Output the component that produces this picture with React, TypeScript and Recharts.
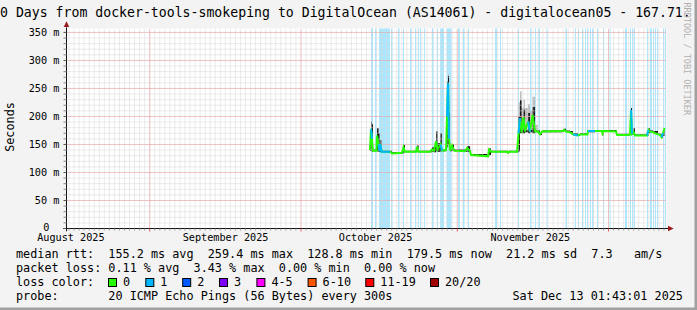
import React from 'react';
import {
  ComposedChart, Line, Area, XAxis, YAxis, ReferenceLine, ReferenceArea, ReferenceDot, CartesianGrid,
} from 'recharts';

const W = 697;
const H = 310;
const FONT = '"DejaVu Sans Mono", monospace';

// ---- axes (x in days since the graph start, y in milliseconds) ----
const xDomain: [number, number] = [0, 119];
const yDomain: [number, number] = [0, 357];
const monthLabels = ['August 2025', 'September 2025', 'October 2025', 'November 2025'];
const monthLabelDays = [0.87, 31.55, 61.3, 92.0];
const monthStartDays = [16.5, 46.5, 77.5, 107.5];
const dayTicks = Array.from({ length: 119 }, (_, i) => i + 0.5);
const yMinorTicks = Array.from({ length: 36 }, (_, i) => i * 10);
const yMajorTicks = [50, 100, 150, 200, 250, 300, 350];

// ---- measurements ----
const days = [60.19, 60.39, 60.59, 60.79, 61.48, 61.58, 61.88, 62.08, 62.28, 62.48, 64.16, 64.56, 66.55, 66.84, 67.14, 69.32, 69.52, 69.81, 72.10, 72.49, 72.89, 73.29, 73.59, 74.19, 74.48, 75.28, 75.47, 75.67, 75.87, 76.07, 76.46, 76.86, 79.04, 79.44, 80.04, 80.24, 83.61, 83.81, 84.20, 87.37, 87.57, 87.77, 89.36, 89.65, 89.95, 90.25, 90.65, 90.94, 91.54, 91.93, 92.43, 92.93, 93.52, 93.91, 94.31, 98.48, 98.68, 99.07, 99.86, 100.46, 101.45, 101.84, 103.33, 103.43, 104.82, 106.21, 106.31, 106.51, 108.99, 109.19, 111.17, 111.76, 111.96, 112.16, 112.46, 112.75, 115.13, 115.43, 115.73, 116.32, 116.72, 117.32, 117.71, 118.01, 118.31, 118.61];
const medianRtt = [140, 178, 160, 139, 139, 166, 150, 138, 150, 137, 137, 134, 135, 145, 137, 137, 146, 137, 137, 141, 139, 156, 141, 150, 139, 140, 200, 259.4, 160, 139, 148, 139, 138, 144, 138, 131, 128.8, 141, 137, 137, 135, 137, 137, 170, 197, 171, 199, 173, 191, 173, 203, 173, 173, 168, 173, 174, 176, 173, 172, 168, 166, 168, 168, 174, 174, 174, 170, 174, 173, 167, 167, 168, 211, 169, 172, 166, 166, 176, 173, 172, 170, 168, 167, 163, 170, 179.5];
const smokeLow = [139, 138, 137, 138, 138, 138, 137, 137, 137, 136, 136, 133, 134, 136, 136, 136, 137, 136, 136, 137, 136, 138, 137, 139, 138, 139, 145, 150, 141, 138, 139, 138, 137, 137, 137, 130, 128, 131, 136, 136, 134, 136, 136, 138, 170, 170, 170, 172, 170, 172, 170, 172, 172, 167, 172, 173, 174, 172, 171, 167, 165, 167, 167, 172, 173, 173, 166, 173, 172, 166, 166, 167, 168, 168, 167, 165, 165, 170, 172, 171, 169, 167, 166, 162, 165, 172];
const smokeHigh = [142, 191, 186, 141, 141, 179, 170, 140, 158, 139, 139, 136, 137, 149, 139, 139, 148, 139, 139, 145, 146, 173, 152, 170, 141, 142, 262, 272, 205, 141, 151, 141, 140, 147, 140, 133, 131, 143, 139, 139, 137, 139, 139, 200, 229, 176, 212, 176, 206, 176, 217, 175, 175, 170, 175, 176, 178, 175, 174, 170, 168, 170, 170, 176, 176, 176, 175, 176, 175, 169, 169, 170, 215, 173, 179, 168, 168, 179, 175, 174, 174, 170, 169, 165, 175, 182];
const smokeOuter = [142, 191, 186, 141, 141, 179, 170, 140, 158, 139, 139, 136, 137, 149, 139, 139, 148, 139, 139, 145, 146, 173, 152, 170, 141, 142, 262, 275, 205, 141, 151, 141, 140, 147, 140, 133, 131, 143, 139, 139, 137, 139, 139, 225, 245, 215, 230, 215, 222, 210, 235, 185, 175, 170, 175, 176, 178, 175, 174, 170, 168, 170, 170, 176, 176, 176, 175, 176, 175, 169, 169, 170, 215, 173, 179, 168, 168, 179, 175, 174, 174, 170, 169, 165, 175, 182];
const lossCount = [0, 1, 0, 0, 0, 0, 1, 1, 1, 1, 0, 0, 0, 0, 0, 0, 0, 0, 0, 0, 0, 0, 0, 1, 0, 0, 1, 1, 0, 0, 0, 0, 0, 0, 0, 0, 0, 0, 0, 0, 0, 0, 0, 1, 0, 0, 0, 0, 1, 0, 0, 0, 0, 0, 0, 0, 0, 0, 0, 1, 0, 0, 0, 1, 0, 0, 0, 0, 0, 0, 0, 0, 1, 0, 0, 0, 1, 0, 0, 0, 0, 0, 0, 1, 0, 0];

// periods with packet loss (background bands)
const lossStart = [60.39, 61.19, 61.98, 64.36, 65.75, 66.74, 68.13, 69.12, 69.72, 70.11, 70.90, 72.49, 73.49, 74.09, 75.37, 77.65, 78.64, 79.63, 84.99, 85.98, 89.55, 91.93, 92.92, 93.61, 95.20, 98.97, 100.85, 101.45, 102.24, 102.84, 103.24, 103.83, 104.23, 105.22, 106.41, 107.70, 110.77, 111.76, 112.16, 112.55, 115.13, 115.73, 116.32, 116.72, 117.12, 118.31, 118.71];
const lossEnd = [60.79, 61.48, 64.16, 64.66, 66.05, 66.94, 68.43, 69.32, 69.91, 70.31, 71.10, 72.79, 73.69, 74.88, 76.36, 78.04, 78.94, 79.83, 85.38, 86.18, 89.75, 92.22, 93.12, 93.91, 95.40, 99.27, 101.05, 101.65, 102.44, 103.04, 103.43, 104.03, 104.52, 105.42, 106.61, 107.89, 111.17, 111.96, 112.36, 112.75, 115.33, 116.12, 116.52, 116.92, 117.32, 118.51, 118.91];

// ---- legend / text ----
const lossLegendLabels = ['0', '1', '2', '3', '4-5', '6-10', '11-19', '20/20'];
const lossColors = ['#26ff00', '#00b8ff', '#0059ff', '#7e00ff', '#ff00ff', '#ff5500', '#ff0000', '#a10000'];
const legendBoxX = [108, 145.3, 182.2, 219, 256.4, 307.6, 365.3, 430];
const titleText = '0 Days from docker-tools-smokeping to DigitalOcean (AS14061) - digitalocean05 - 167.71.';
const statLines = [
  'median rtt:  155.2 ms avg  259.4 ms max  128.8 ms min  179.5 ms now  21.2 ms sd  7.3   am/s',
  'packet loss: 0.11 % avg  3.43 % max  0.00 % min  0.00 % now',
  'loss color:',
  'probe:       20 ICMP Echo Pings (56 Bytes) every 300s',
];
const dateText = 'Sat Dec 13 01:43:01 2025';
const watermark = 'RRDTOOL / TOBI OETIKER';

// median drawn in green; points adjacent to a lossy interval also get a blue copy
const data = days.map((d, i) => ({
  d,
  med: medianRtt[i],
  medLoss: lossCount[i] > 0 || (i > 0 && lossCount[i - 1] > 0) ? medianRtt[i] : null,
  smoke: [smokeLow[i], smokeHigh[i]],
  outer: [smokeLow[i], smokeOuter[i]],
}));

const XTick = (props: any) => {
  const { x, y, payload } = props;
  const v = payload.value;
  const li = monthLabelDays.indexOf(v);
  if (li >= 0) {
    return (
      <text x={x} y={y + 12.5} textAnchor="middle" fontFamily={FONT} fontSize={10.2} fill="#000">
        {monthLabels[li]}
      </text>
    );
  }
  const isMonth = monthStartDays.includes(v);
  return <line x1={x} x2={x} y1={y} y2={y + (isMonth ? 3 : 2)} stroke={isMonth ? '#e05a5a' : '#9a9a9a'} />;
};

const YTick = (props: any) => {
  const { x, y, payload } = props;
  const v = payload.value;
  const major = v % 50 === 0;
  return (
    <g>
      <line x1={x - 3} x2={x} y1={y} y2={y} stroke={major ? '#555' : '#888'} />
      {major && (
        <text x={v === 0 ? x - 17 : x - 7.2} y={v === 0 ? y + 2.6 : y + 3.7} textAnchor="end" fontFamily={FONT} fontSize={10.2} fill="#000">
          {v === 0 ? '0' : `${v} m`}
        </text>
      )}
    </g>
  );
};

const xTicks = [...dayTicks, ...monthLabelDays].sort((a, b) => a - b);

export default function App() {
  return (
    <div style={{ position: 'absolute', left: 0, top: 0, width: W, height: H, background: '#f3f3f3', overflow: 'hidden' }}>
      <ComposedChart
        width={W}
        height={H}
        data={data}
        margin={{ top: 28.5, right: 30.5, bottom: 51.5, left: 36.5 }}
      >
        <CartesianGrid horizontal={false} vertical={false} fill="#ffffff" />
        <XAxis
          type="number"
          dataKey="d"
          domain={xDomain}
          allowDataOverflow
          ticks={xTicks}
          interval={0}
          height={30}
          tickSize={0}
          tickMargin={0}
          tickLine={false}
          axisLine={false}
          tick={XTick}
        />
        <YAxis
          type="number"
          domain={yDomain}
          allowDataOverflow
          ticks={yMinorTicks}
          interval={0}
          width={30}
          tickSize={0}
          tickMargin={0}
          tickLine={false}
          axisLine={false}
          tick={YTick}
        />
        {dayTicks.map((d) => (
          <ReferenceLine key={'vx' + d} x={d} stroke="#d6d6d6" strokeDasharray="1 1" />
        ))}
        {yMinorTicks.filter((v) => v > 0).map((v) => (
          <ReferenceLine key={'hy' + v} y={v} stroke="#d6d6d6" strokeDasharray="1 1" />
        ))}
        {monthStartDays.map((d) => (
          <ReferenceLine key={'mx' + d} x={d} stroke="#f09a9a" strokeDasharray="1 1" />
        ))}
        {yMajorTicks.map((v) => (
          <ReferenceLine key={'my' + v} y={v} stroke="#f09a9a" strokeDasharray="1 1" />
        ))}
        {lossStart.map((s, i) => (
          <ReferenceArea key={'loss' + i} x1={s} x2={lossEnd[i]} fill="#00b8ff" fillOpacity={0.33} stroke="none" />
        ))}
        <Area
          dataKey="outer"
          type="stepAfter"
          fill="#bdbdbd"
          fillOpacity={1}
          stroke="none"
          isAnimationActive={false}
        />
        <Area
          dataKey="smoke"
          type="stepAfter"
          fill="#1a1a1a"
          fillOpacity={1}
          stroke="none"
          isAnimationActive={false}
        />
        <Line
          dataKey="med"
          type="linear"
          stroke={lossColors[0]}
          strokeWidth={2}
          dot={false}
          isAnimationActive={false}
        />
        <Line
          dataKey="medLoss"
          type="linear"
          stroke={lossColors[1]}
          strokeWidth={2}
          dot={false}
          connectNulls={false}
          isAnimationActive={false}
        />
        <ReferenceLine
          segment={[{ x: -0.65, y: 0 }, { x: 119.4, y: 0 }]}
          stroke="#111"
          ifOverflow="visible"
        />
        <ReferenceLine
          segment={[{ x: 0, y: -5 }, { x: 0, y: 359 }]}
          stroke="#111"
          ifOverflow="visible"
        />
        <ReferenceDot
          x={119}
          y={0}
          ifOverflow="visible"
          shape={(p: any) => (
            <polygon points={`${p.cx + 1.5},${p.cy - 2.8} ${p.cx + 1.5},${p.cy + 2.8} ${p.cx + 7.2},${p.cy}`} fill="#9b1c1c" />
          )}
        />
        <ReferenceDot
          x={0}
          y={357}
          ifOverflow="visible"
          shape={(p: any) => (
            <polygon points={`${p.cx - 2.8},${p.cy - 1.5} ${p.cx + 2.8},${p.cy - 1.5} ${p.cx},${p.cy - 7.2}`} fill="#9b1c1c" />
          )}
        />
      </ComposedChart>
      <svg
        width={W}
        height={H}
        style={{ position: 'absolute', left: 0, top: 0, pointerEvents: 'none' }}
        fontFamily={FONT}
      >
        <text x={0} y={16.5} fontSize={13.2} fill="#000" xmlSpace="preserve" style={{ whiteSpace: 'pre' }}>
          {titleText}
        </text>
        <text transform="translate(13.5,127) rotate(-90)" textAnchor="middle" fontSize={11.8} fill="#000">
          Seconds
        </text>
        <text transform="translate(683.5,2.5) rotate(90)" fontSize={8.5} fill="#b0b0b0" xmlSpace="preserve" style={{ whiteSpace: 'pre' }}>
          {watermark}
        </text>
        {statLines.map((t, i) => (
          <text key={i} x={16} y={258 + i * 14} fontSize={11.8} fill="#000" xmlSpace="preserve" style={{ whiteSpace: 'pre' }}>
            {t}
          </text>
        ))}
        <text x={512.5} y={300} fontSize={11.8} fill="#000" xmlSpace="preserve" style={{ whiteSpace: 'pre' }}>
          {dateText}
        </text>
        {lossLegendLabels.map((l, i) => (
          <g key={l}>
            <rect x={legendBoxX[i] + 0.5} y={278.5} width={8} height={8} fill={lossColors[i]} stroke="#000" strokeWidth={1} />
            <text x={legendBoxX[i] + 15} y={286} fontSize={11.8} fill="#000">{l}</text>
          </g>
        ))}
        <rect x={694.5} y={0} width={2.5} height={H} fill="#a0a0a0" />
        <rect x={0} y={307.5} width={W} height={2.5} fill="#a0a0a0" />
      </svg>
    </div>
  );
}
